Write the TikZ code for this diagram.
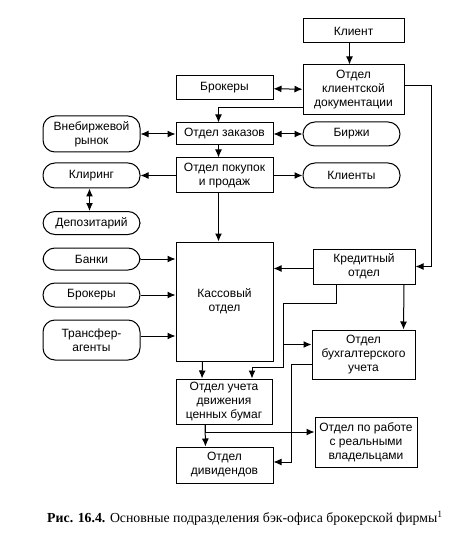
\documentclass[tikz,border=0pt]{standalone}
\usepackage{fontspec}
\setmainfont{Liberation Sans}
\newfontfamily\capfont{Liberation Serif}
\usepackage{tikz}
\usetikzlibrary{arrows.meta}

\begin{document}
\begin{tikzpicture}[x=1pt, y=-1pt, >={Latex[length=8pt,width=7pt]}, line width=1pt,
  box/.style={draw, align=center, font=\fontsize{12}{14}\selectfont, inner sep=1pt, minimum width=97pt},
  pill/.style={box, rounded corners=12pt}]
\useasboundingbox (0,0) rectangle (456,537);
\node[box, minimum width=101pt, minimum height=24pt] (klient) at (353.5,31) {Клиент};
\node[box, minimum width=101pt, minimum height=50pt] (doc) at (353.5,90) {Отдел\\клиентской\\документации};
\node[box, minimum height=24pt] (brok) at (224.5,88) {Брокеры};
\node[box, minimum height=22pt] (zakaz) at (224.5,134) {Отдел заказов};
\node[pill, minimum height=36pt] (vneb) at (91.5,134) {Внебиржевой\\рынок};
\node[pill, minimum height=24pt] (birzh) at (351.5,134) {Биржи};
\node[box, minimum height=35pt] (pokup) at (224.5,175.5) {Отдел покупок\\и продаж};
\node[pill, minimum height=25pt] (klir) at (91.5,175.5) {Клиринг};
\node[pill, minimum height=25pt] (klienty) at (351.5,175.5) {Клиенты};
\node[pill, minimum height=23pt] (depoz) at (91.5,223) {Депозитарий};
\node[box, minimum height=119pt] (kassa) at (224.5,301.5) {Кассовый\\отдел};
\node[pill, minimum height=22pt] (banki) at (91.5,259) {Банки};
\node[pill, minimum height=24pt] (brok2) at (91.5,295) {Брокеры};
\node[pill, minimum height=40pt] (transf) at (91.5,340) {Трансфер-\\агенты};
\node[box, minimum width=102pt, minimum height=35pt] (kredit) at (364,266.5) {Кредитный\\отдел};
\node[box, minimum width=103pt, minimum height=49pt] (buhg) at (363.5,354.5) {Отдел\\бухгалтерского\\учета};
\node[box, minimum width=96pt, minimum height=45pt] (dvizh) at (224,401.5) {Отдел учета\\движения\\ценных бумаг};
\node[box, minimum width=102pt, minimum height=50pt] (vlad) at (366,442) {Отдел по работе\\с реальными\\владельцами};
\node[box, minimum height=36pt] (divid) at (224.5,465) {Отдел\\дивидендов};
\node[font=\capfont\fontsize{13.8}{16}\selectfont] (cap) at (245,518) {\textbf{Рис. 16.4.} Основные подразделения бэк-офиса брокерской фирмы\textsuperscript{1}};
\coordinate (k1) at (283,303); \coordinate (k2) at (283,367);
\coordinate (b1) at ([yshift=10pt]buhg.west); \coordinate (b2) at ([yshift=-10pt]buhg.west);
\draw[->] ([xshift=-4pt]klient.south) -- ([xshift=-4pt]doc.north);
\draw[<->] (brok) -- (doc);
\draw[->] ([yshift=-18pt]doc.west) -| ([xshift=-6pt]zakaz.north);
\draw[->] ([yshift=4pt]doc.east) -- ++(27,0) |- (kredit.east);
\draw[<->] (vneb) -- (zakaz); \draw[<->] (zakaz) -- (birzh);
\draw[->] ([xshift=-6pt]zakaz.south) -- ([xshift=-6pt]pokup.north);
\draw[->] (pokup) -- (klir); \draw[->] (pokup) -- (klienty);
\draw[<->] ([xshift=-2pt]klir.south) -- ([xshift=-2pt]depoz.north);
\draw[->] ([xshift=-6pt]pokup.south) -- ([xshift=-6pt]kassa.north);
\draw[->] (banki.east) -- (banki.east -| kassa.west);
\draw[->] (brok2.east) -- (brok2.east -| kassa.west);
\draw[->] ([yshift=4pt]transf.east) -- ([yshift=4pt]transf.east -| kassa.west);
\draw[->] ([yshift=-2pt]kredit.west) -- ([yshift=-2pt]kredit.west -| kassa.east);
\draw[->] ([xshift=40pt]kredit.south) -- ([xshift=40pt]buhg.north);
\draw[->] ([xshift=-28pt]kredit.south) |- (k1) -- (k2) -| ([xshift=28pt]dvizh.north);
\draw[->] (k1 |- b1) -- (b1);
\draw[->] ([xshift=-22pt]kassa.south) -- ([xshift=-22pt]dvizh.north);
\draw[->] (b2) -- ++(-20,0) |- ([yshift=3pt]divid.east);
\draw[->] ([xshift=-19pt]dvizh.south) -- ([xshift=-19pt]divid.north);
\draw[->] ([xshift=-19pt]dvizh.south) |- ([yshift=10pt]vlad.west);
\end{tikzpicture}
\end{document}
